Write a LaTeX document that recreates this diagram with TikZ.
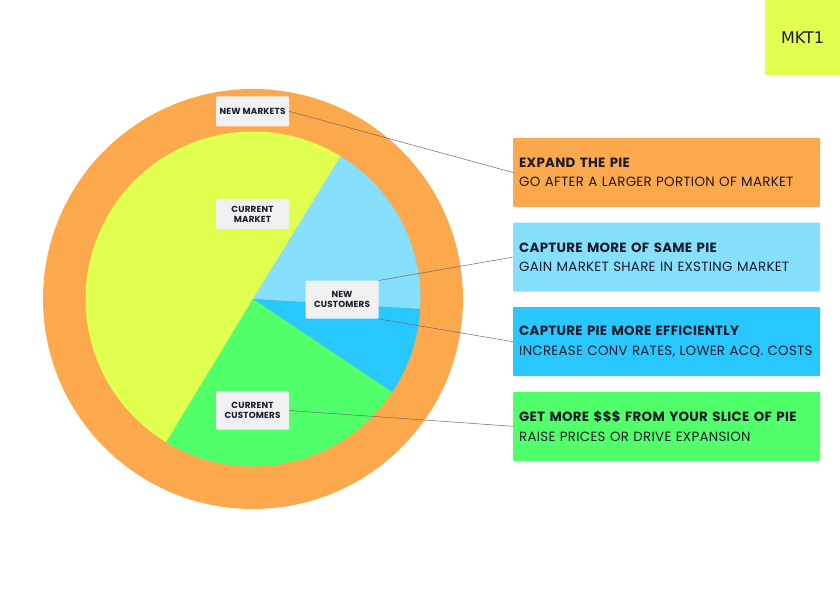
\documentclass[tikz,border=0pt]{standalone}
\usepackage{fontspec}
\setmainfont{Poppins}[LetterSpace=2]
\newfontfamily\logofont{DejaVu Sans}
\usepackage{xcolor}
\usepackage{tikz}

\definecolor{ringorange}{HTML}{FCA84D}
\definecolor{pieyellow}{HTML}{E0FF4F}
\definecolor{pielight}{HTML}{86DFFB}
\definecolor{piedark}{HTML}{28C8FF}
\definecolor{piegreen}{HTML}{50FF6A}
\definecolor{labelgray}{HTML}{F1F1F1}
\definecolor{textdark}{HTML}{1B1B2B}
\definecolor{linegray}{HTML}{6A6A6A}

\begin{document}
\begin{tikzpicture}[x=1pt,y=1pt,text=textdark,
	lbl/.style={fill=labelgray,rounded corners=1pt,minimum width=73pt,inner sep=2pt,align=center,font=\fontsize{8.8}{10.2}\selectfont\bfseries},
	infobox/.style={anchor=west,rounded corners=1pt,minimum height=69pt,text width=295pt,inner sep=6pt,align=left,font=\fontsize{13.4}{19.6}\selectfont},
	conn/.style={draw=linegray,line width=0.5pt}]
			\useasboundingbox (0,0) rectangle (840,600);
			% Vẽ vòng ngoài
			\fill[ringorange] (253,301) circle (210);
			% Vẽ các phần bánh
			\foreach \a/\b/\c in {58.4/238.8/pieyellow,-3.4/58.4/pielight,-33.8/-3.4/piedark,-121.2/-33.8/piegreen}
			\fill[\c] (253,301) -- ++(\a:167.5) arc[start angle=\a,end angle=\b,radius=167.5] -- cycle;
			% Nhãn trên bánh
			\node[lbl,minimum height=30pt] (newmkt) at (252.5,488.7) {NEW MARKETS};
			\node[lbl,minimum height=30pt] (curmkt) at (252.5,386) {CURRENT\\MARKET};
			\node[lbl,minimum height=38pt] (newcust) at (342,300.3) {NEW\\CUSTOMERS};
			\node[lbl,minimum height=38pt] (curcust) at (252.5,189.5) {CURRENT\\CUSTOMERS};
			% Các hộp bên phải
			\foreach \c/\t/\s [count=\i from 0] in {ringorange/{EXPAND THE PIE}/{GO AFTER A LARGER PORTION OF MARKET},pielight/{CAPTURE MORE OF SAME PIE}/{GAIN MARKET SHARE IN EXSTING MARKET},piedark/{CAPTURE PIE MORE EFFICIENTLY}/{INCREASE CONV RATES, LOWER ACQ. COSTS},piegreen/{GET MORE \$\$\$ FROM YOUR SLICE OF PIE}/{RAISE PRICES OR DRIVE EXPANSION}}
			\node[infobox,fill=\c] (box\i) at (513,427.5-84.6*\i) {\textbf{\t}\\\s};
			% Đường nối
			\draw[conn] (newmkt.east) -- (box0.west);
			\draw[conn] (newcust.north east) -- (box1.west);
			\draw[conn] (newcust.south east) -- (box2.west);
			\draw[conn] (curcust.east) -- (box3.west);
			% Logo
			\node[fill=pieyellow,minimum size=75pt,inner sep=0pt,font=\logofont\fontsize{16}{18}\selectfont] (logo) at (802.5,562.5) {MKT1};
		\end{tikzpicture}
\end{document}
